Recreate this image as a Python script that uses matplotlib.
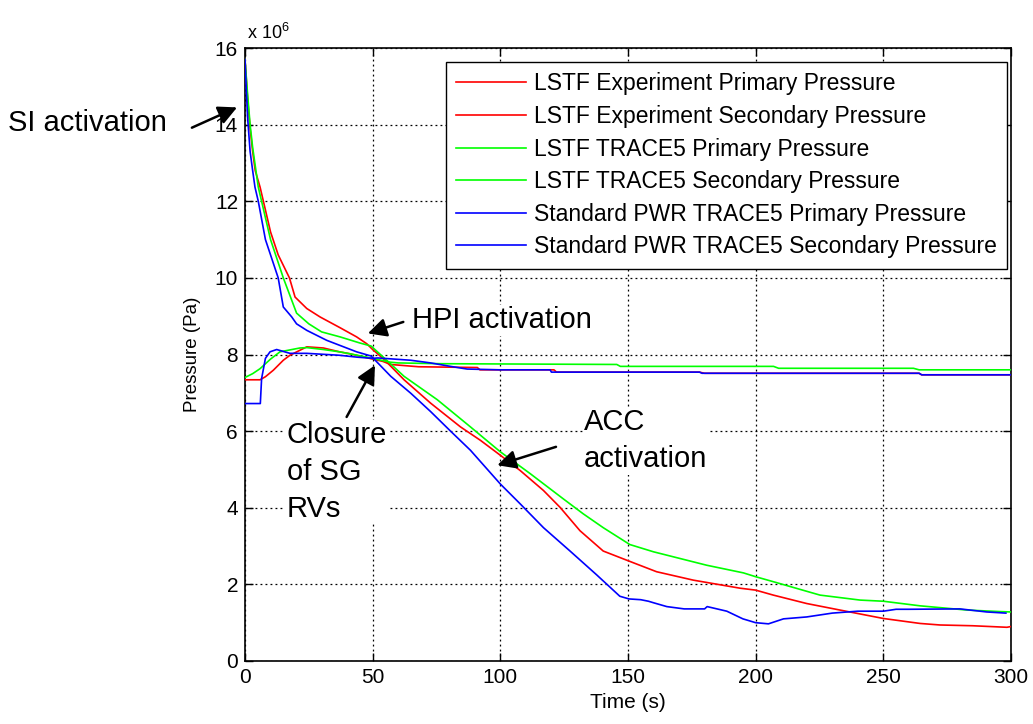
import matplotlib
matplotlib.use("Agg")
import matplotlib.pyplot as plt

plt.rcParams['font.family'] = ['Liberation Sans', 'DejaVu Sans']
plt.rcParams['mathtext.fontset'] = 'custom'
plt.rcParams['mathtext.rm'] = 'Liberation Sans'
plt.rcParams['mathtext.it'] = 'Liberation Sans'

# ---- data (pressure in units of 1e6 Pa) ----
t_exp_pri = [0, 1, 2, 3, 4, 5.9, 7.2, 10, 13, 17.4, 19.6, 24.2, 29.4, 37.2, 43.7, 47.7, 50, 54.5,
             62.3, 72.7, 84.4, 92.2, 100, 107.8, 116.9, 123.4, 131.2, 140.3, 150.7, 161.2, 175.6,
             193.9, 200, 206.9, 220, 233, 250, 264.4, 272.2, 285, 298.4, 300]
p_exp_pri = [15.7, 14.7, 13.9, 13.3, 12.8, 12.37, 12.0, 11.2, 10.6, 10.0, 9.5, 9.2, 8.98, 8.7, 8.46,
             8.28, 8.13, 7.87, 7.34, 6.73, 6.11, 5.76, 5.37, 4.97, 4.45, 4.01, 3.4, 2.87, 2.6, 2.33,
             2.11, 1.9, 1.85, 1.72, 1.5, 1.33, 1.11, 0.98, 0.94, 0.92, 0.88, 0.9]

t_exp_sec = [0, 5.9, 8, 11.1, 15, 17.6, 24.2, 30.7, 37, 41, 50, 54, 57, 68, 91, 92, 121, 122, 178,
             180, 264, 265, 300]
p_exp_sec = [7.34, 7.34, 7.42, 7.59, 7.85, 7.98, 8.2, 8.17, 8.07, 8.02, 7.88, 7.82, 7.74, 7.68,
             7.66, 7.6, 7.6, 7.54, 7.54, 7.51, 7.51, 7.47, 7.47]

t_lstf_pri = [0, 1, 2, 3, 5.2, 6.5, 10, 15, 20.2, 25, 30, 37.2, 45, 49.4, 54.5, 62.3, 75.3, 88.3,
              100, 111.7, 124.7, 132.5, 140.3, 150.7, 160, 180.8, 195.2, 200, 206.9, 225.2, 240.9,
              250, 264.4, 282.7, 295.7, 300]
p_lstf_pri = [15.7, 14.8, 14.0, 13.4, 12.37, 12.0, 11.0, 10.0, 9.08, 8.8, 8.59, 8.46, 8.3, 8.22,
              7.91, 7.43, 6.82, 6.11, 5.46, 4.89, 4.23, 3.84, 3.48, 3.04, 2.85, 2.5, 2.3, 2.2, 2.07,
              1.72, 1.59, 1.56, 1.44, 1.33, 1.29, 1.28]

t_lstf_sec = [0, 3, 5.9, 10, 13.7, 21.5, 24.2, 30.7, 37, 41, 50, 56.8, 60, 76.4, 145.6, 147, 207,
              209, 261.8, 264, 300]
p_lstf_sec = [7.4, 7.5, 7.63, 7.88, 8.07, 8.17, 8.18, 8.13, 8.07, 8.02, 7.9, 7.8, 7.78, 7.76, 7.74,
              7.69, 7.69, 7.64, 7.64, 7.6, 7.6]

t_pwr_pri = [0, 1, 2, 3, 3.9, 5.2, 8, 13, 15, 18.3, 20.2, 24.2, 32, 43.7, 49.4, 57.1, 64.9, 72.7,
             80.5, 88.3, 100, 107.8, 116.9, 127.3, 137.7, 146.8, 150.4, 155, 158, 160, 165.2, 172,
             180, 181, 188.7, 195, 200, 205, 210.9, 220, 230, 240, 250, 255, 260, 280, 290.5, 298]
p_pwr_pri = [15.7, 14.2, 13.3, 12.8, 12.37, 12.0, 11.0, 10.0, 9.24, 8.98, 8.8, 8.63, 8.37, 8.07,
             7.96, 7.43, 6.99, 6.51, 6.0, 5.5, 4.62, 4.1, 3.48, 2.87, 2.25, 1.69, 1.62, 1.6, 1.56,
             1.52, 1.42, 1.36, 1.36, 1.42, 1.3, 1.1, 1.0, 0.97, 1.1, 1.15, 1.25, 1.3, 1.3, 1.35,
             1.35, 1.36, 1.28, 1.25]

t_pwr_sec = [0, 6, 6.5, 8, 9.8, 12.4, 17.6, 24.2, 37, 44, 50, 52, 64.9, 72.7, 80.5, 87, 100, 119.5,
             120, 178, 179, 264, 265, 300]
p_pwr_sec = [6.72, 6.72, 7.37, 7.9, 8.07, 8.13, 8.03, 8.03, 7.98, 7.93, 7.9, 7.91, 7.85, 7.78,
             7.69, 7.62, 7.6, 7.6, 7.54, 7.54, 7.51, 7.51, 7.47, 7.47]

labels = ["LSTF Experiment Primary Pressure", "LSTF Experiment Secondary Pressure",
          "LSTF TRACE5 Primary Pressure", "LSTF TRACE5 Secondary Pressure",
          "Standard PWR TRACE5 Primary Pressure", "Standard PWR TRACE5 Secondary Pressure"]
xticks = [0, 50, 100, 150, 200, 250, 300]
yticks = [0, 2, 4, 6, 8, 10, 12, 14, 16]

RED, GREEN, BLUE = '#ff0000', '#00ff00', '#0000ff'

fig = plt.figure(figsize=(10.33, 7.24), dpi=100)
ax = fig.add_axes([245/1033, 1 - 661/724, (1011 - 245)/1033, (661 - 48)/724])

lw = 1.2
ax.plot(t_exp_pri, p_exp_pri, color=RED, lw=lw, label=labels[0], zorder=3)
ax.plot(t_exp_sec, p_exp_sec, color=RED, lw=lw, label=labels[1], zorder=3)
ax.plot(t_lstf_pri, p_lstf_pri, color=GREEN, lw=lw, label=labels[2], zorder=3)
ax.plot(t_lstf_sec, p_lstf_sec, color=GREEN, lw=lw, label=labels[3], zorder=3)
ax.plot(t_pwr_pri, p_pwr_pri, color=BLUE, lw=lw, label=labels[4], zorder=3)
ax.plot(t_pwr_sec, p_pwr_sec, color=BLUE, lw=lw, label=labels[5], zorder=3)

ax.set_xlim(0, 300)
ax.set_ylim(0, 16)
ax.set_xticks(xticks)
ax.set_yticks(yticks)
ax.tick_params(direction='in', length=6, width=1, top=True, right=True, labelsize=15, pad=5)
ax.grid(True, color='black', linestyle=(0, (1.5, 2.5)), linewidth=0.9)
ax.set_axisbelow(True)
for s in ax.spines.values():
    s.set_linewidth(1.2)

ax.set_xlabel("Time (s)", fontsize=15, labelpad=4)
ax.set_ylabel("Pressure (Pa)", fontsize=13.5, labelpad=10)
ax.text(0.003, 1.008, r'x 10$^{6}$', transform=ax.transAxes, fontsize=13, ha='left', va='bottom')

leg = ax.legend(loc='upper right', bbox_to_anchor=(1007/1033, 1 - 62/724),
                bbox_transform=fig.transFigure, borderaxespad=0, fontsize=16.5,
                handlelength=3.05, handletextpad=0.35, labelspacing=0.42, borderpad=0.45,
                fancybox=False, framealpha=1, edgecolor='black')
leg.get_frame().set_linewidth(1.0)
leg.set_zorder(5)

afs = 21
bb = dict(facecolor='white', edgecolor='none', pad=1)
arrow = dict(arrowstyle='-|>', color='black', lw=1.8, mutation_scale=28, shrinkA=0, shrinkB=0)

ax.text(-92.8, 13.83, "SI activation", fontsize=afs, ha='left', va='baseline')
ax.annotate('', xy=(-3.1, 14.45), xytext=(-20.8, 13.92), arrowprops=arrow, annotation_clip=False)

ax.text(65.3, 8.69, "HPI activation", fontsize=afs, ha='left', va='baseline', bbox=bb, zorder=2.5)
ax.annotate('', xy=(48.1, 8.55), xytext=(62, 8.85), arrowprops=arrow)

# multi-line texts: 'baseline' aligns the last line
ax.text(16.3, 3.76, "Closure\nof SG\nRVs", fontsize=afs, ha='left', va='baseline',
        linespacing=1.4, bbox=bb, zorder=2.5)
ax.annotate('', xy=(50.9, 7.72), xytext=(39.8, 6.37), arrowprops=arrow)

ax.text(132.8, 5.06, "ACC\nactivation", fontsize=afs, ha='left', va='baseline',
        linespacing=1.4, bbox=bb, zorder=2.5)
ax.annotate('', xy=(98.8, 5.11), xytext=(121.8, 5.59), arrowprops=arrow)

fig.savefig("out.png", dpi=100)
